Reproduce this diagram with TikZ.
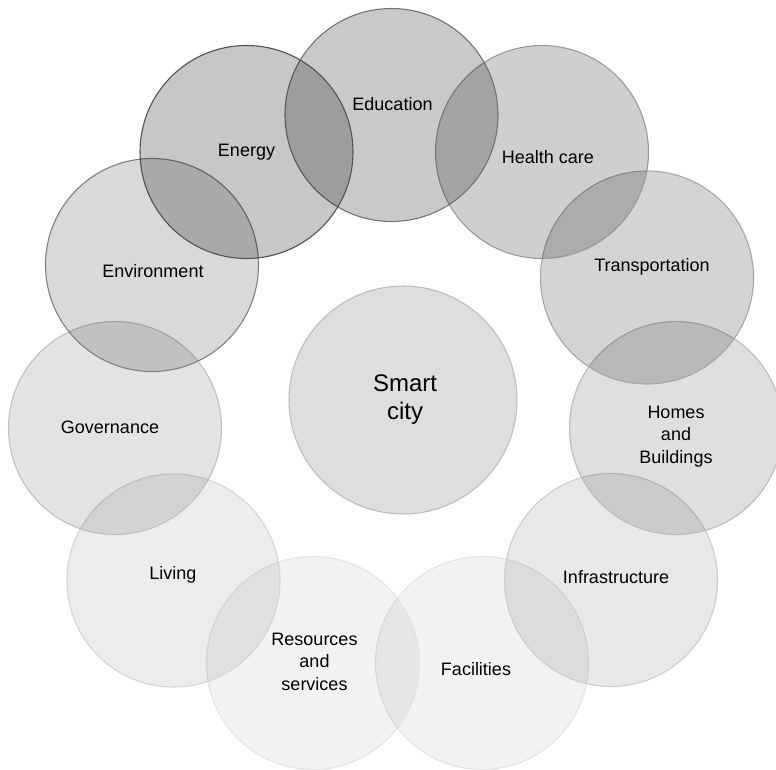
\documentclass[tikz,border=0pt]{standalone}
\usepackage{fontspec}
\setmainfont{Liberation Sans}
\begin{document}
\begin{tikzpicture}[x=1pt,y=-1pt,
  ring/.style n args={2}{circle, minimum size=213pt, inner sep=0pt, fill=black, fill opacity=#1, draw=#2, draw opacity=1, line width=1.1pt},
  txt/.style={align=center, font=\fontsize{18}{22.5}\selectfont, text=black, inner sep=0pt},
  bigtxt/.style={align=center, font=\fontsize{24}{28}\selectfont, text=black, inner sep=0pt}]
\useasboundingbox (0,0) rectangle (776,769);
% circles
\node[ring={0.05}{black!11}] (fac) at (482,663) {};
\node[ring={0.05}{black!11}] (res) at (313,663) {};
\node[ring={0.075}{black!17}] (liv) at (173.5,580.5) {};
\node[ring={0.09}{black!20}] (inf) at (611,580) {};
\node[ring={0.11}{black!25}] (gov) at (115,428) {};
\node[ring={0.125}{black!27}] (hom) at (676,428) {};
\node[ring={0.17}{black!35}] (tra) at (647,277.5) {};
\node[ring={0.15}{black!50}] (env) at (152,265) {};
\node[ring={0.19}{black!40}] (hea) at (542,152) {};
\node[ring={0.21}{black!55}] (edu) at (391.5,115) {};
\node[ring={0.22}{black!68}] (ene) at (246.5,152) {};
\node[ring={0.13}{black!26}, minimum size=228pt] (city) at (403,400) {};
% labels
\node[txt] (tedu) at (392.5,104) {Education};
\node[txt] (tene) at (246.5,152) {Energy};
\node[txt] (thea) at (548,157) {Health care};
\node[txt] (ttra) at (652,267) {Transportation};
\node[txt] (thom) at (676,436.5) {Homes\\and\\Buildings};
\node[txt] (tenv) at (153,271) {Environment};
\node[txt] (tgov) at (110,427) {Governance};
\node[txt] (tliv) at (173,575) {Living};
\node[txt] (tres) at (314.5,661.5) {Resources\\and\\services};
\node[txt] (tfac) at (476,669) {Facilities};
\node[txt] (tinf) at (616,577) {Infrastructure};
\node[bigtxt] (tcity) at (405,400) {Smart\\city};
\end{tikzpicture}
\end{document}
